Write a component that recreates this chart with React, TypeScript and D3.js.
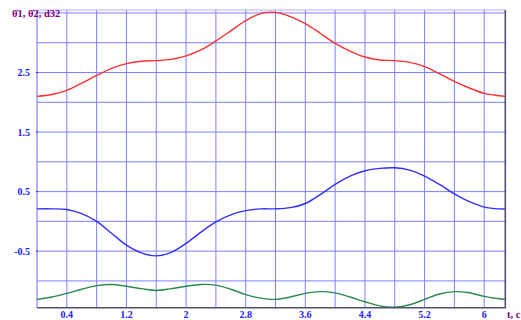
import React from 'react';
import * as d3 from 'd3';

const tValues = [0, 0.2, 0.4, 0.6, 0.8, 1.0, 1.2, 1.4, 1.6, 1.8, 2.0, 2.2, 2.4, 2.6, 2.8, 3.0, 3.2, 3.4, 3.6, 3.8, 4.0, 4.2, 4.4, 4.6, 4.8, 5.0, 5.2, 5.4, 5.6, 5.8, 6.0, 6.2, 6.283];
const theta1 = [2.10, 2.13, 2.20, 2.32, 2.45, 2.57, 2.65, 2.69, 2.70, 2.72, 2.78, 2.88, 3.03, 3.20, 3.37, 3.49, 3.51, 3.44, 3.32, 3.16, 2.99, 2.86, 2.76, 2.71, 2.70, 2.67, 2.60, 2.48, 2.35, 2.24, 2.15, 2.11, 2.10];
const theta2 = [0.21, 0.21, 0.20, 0.13, 0.0, -0.20, -0.40, -0.53, -0.58, -0.52, -0.37, -0.18, -0.01, 0.11, 0.18, 0.21, 0.21, 0.23, 0.30, 0.45, 0.62, 0.76, 0.85, 0.89, 0.90, 0.86, 0.76, 0.62, 0.46, 0.33, 0.24, 0.21, 0.21];
const d32 = [-1.31, -1.27, -1.21, -1.14, -1.08, -1.06, -1.09, -1.13, -1.16, -1.13, -1.09, -1.06, -1.07, -1.14, -1.23, -1.29, -1.31, -1.27, -1.21, -1.18, -1.20, -1.27, -1.35, -1.42, -1.44, -1.40, -1.31, -1.22, -1.18, -1.20, -1.26, -1.30, -1.31];

const xTicks = [0.4, 1.2, 2, 2.8, 3.6, 4.4, 5.2, 6];
const xGrid = d3.range(1, 16).map((i) => +(i * 0.4).toFixed(1));
const yTicks = [2.5, 1.5, 0.5, -0.5];
const yGrid = [-1, -0.5, 0, 0.5, 1, 1.5, 2, 2.5, 3, 3.5];

const W = 521;
const H = 320;

const App: React.FC = () => {
  const x = d3.scaleLinear().domain([0, 2 * Math.PI]).range([37, 505.3]);
  const y = d3.scaleLinear().domain([-1.45, 3.55]).range([307.7, 10]);

  const line = (vs: number[]) =>
    d3.line<number>()
      .x((_, i) => x(tValues[i]))
      .y((v) => y(v))
      .curve(d3.curveCatmullRom)(vs) as string;

  const font = '"Liberation Serif", "Times New Roman", serif';
  const gridColor = '#8080ff';

  return (
    <svg width={W} height={H} style={{ position: 'absolute', left: 0, top: 0, background: '#fff' }}>
      {/* grid */}
      {xGrid.map((t) => (
        <line key={'gx' + t} x1={x(t)} x2={x(t)} y1={y(3.55)} y2={y(-1.45)} stroke={gridColor} strokeWidth={1} />
      ))}
      {yGrid.map((v) => (
        <line key={'gy' + v} x1={x(0)} x2={x(2 * Math.PI)} y1={y(v)} y2={y(v)} stroke={gridColor} strokeWidth={1} />
      ))}
      <line x1={x(0)} x2={x(2 * Math.PI)} y1={y(3.55)} y2={y(3.55)} stroke="#b0b0ff" strokeWidth={1} />
      <line x1={x(0)} x2={x(0)} y1={y(3.55)} y2={y(-1.45)} stroke={gridColor} strokeWidth={1.2} />

      {/* curves */}
      <path d={line(theta1)} fill="none" stroke="#ff3030" strokeWidth={1.4} />
      <path d={line(theta2)} fill="none" stroke="#3030ff" strokeWidth={1.4} />
      <path d={line(d32)} fill="none" stroke="#2a8a4a" strokeWidth={1.4} />

      {/* dark frame: bottom and right */}
      <line x1={x(0)} x2={x(2 * Math.PI) + 0.7} y1={y(-1.45)} y2={y(-1.45)} stroke="#505070" strokeWidth={1.6} />
      <line x1={x(2 * Math.PI)} x2={x(2 * Math.PI)} y1={y(3.55)} y2={y(-1.45)} stroke="#505070" strokeWidth={1.6} />

      {/* tick labels */}
      {xTicks.map((t) => (
        <text key={'xl' + t} x={x(t)} y={318} textAnchor="middle" fontFamily={font} fontWeight="bold" fontSize={10} fill="#2020ff">
          {String(t)}
        </text>
      ))}
      {yTicks.map((v) => (
        <g key={'yl' + v}>
          <text x={30} y={y(v) + 3.5} textAnchor="end" fontFamily={font} fontWeight="bold" fontSize={10} fill="#2020ff">
            {String(v)}
          </text>
          <line x1={36} x2={38} y1={y(v)} y2={y(v)} stroke="#2020ff" strokeWidth={1} />
        </g>
      ))}

      {/* axis titles */}
      <text x={12} y={17} fontFamily={font} fontWeight="bold" fontSize={10.5} fill="#800080">
        θ̇1, θ̇2, d32
      </text>
      <text x={507} y={318} fontFamily={font} fontWeight="bold" fontSize={10.5} fill="#800080">
        t, c
      </text>
    </svg>
  );
};

export default App;
